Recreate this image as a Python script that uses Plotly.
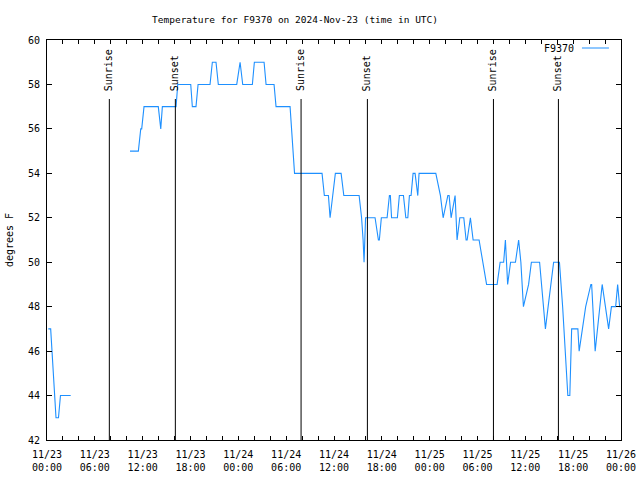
import pandas as pd
import plotly.graph_objects as go

start = pd.Timestamp("2024-11-23 00:00")
station = "F9370"
title_text = "Temperature for F9370 on 2024-Nov-23 (time in UTC)"

# hours after 2024-11-23 00:00 UTC
hours = [
    0.16, 0.46, 1.13, 1.44, 1.69, 2.97,
    6.0,
    10.41, 11.46, 11.76, 11.88, 12.17, 13.96, 14.27, 14.47, 16.19, 16.40,
    18.03, 18.23, 18.69, 18.95, 20.45, 20.74, 21.20, 21.49, 23.80, 24.22,
    24.55, 25.76, 26.01, 27.23, 27.48, 28.48, 28.73, 30.49, 31.05, 34.50,
    34.79, 35.30, 35.51, 35.85, 36.17, 36.89, 37.23, 39.15, 39.46, 39.65,
    39.77, 39.96, 41.15, 41.57, 41.69, 41.94, 42.66, 42.95, 43.07, 43.22,
    43.95, 44.20, 44.71, 45.01, 45.26, 45.46, 45.67, 45.92, 46.17, 46.51,
    46.67, 48.77, 49.35, 49.69, 50.28, 50.44, 50.69, 51.19, 51.44, 51.78,
    52.28, 52.57, 52.70, 53.11, 53.45, 54.20, 54.70, 55.14, 56.46, 56.84,
    57.28, 57.50, 57.78, 58.15, 58.76, 59.16, 59.44, 59.76, 60.41, 60.76,
    61.79, 62.27, 62.52, 62.86, 63.20, 63.55, 64.28, 64.68, 65.33, 65.58,
    65.81, 66.59, 66.75, 67.57, 68.22, 68.32, 68.76, 69.32, 69.64, 70.45,
    70.80, 71.33, 71.58, 71.83, 71.95,
]
temps = [
    47, 47, 43, 43, 44, 44,
    None,
    55, 55, 56, 56, 57, 57, 56, 57, 57, 58,
    58, 57, 57, 58, 58, 59, 59, 58, 58, 59,
    58, 58, 59, 59, 58, 58, 57, 57, 54, 54,
    53, 53, 52, 53, 54, 54, 53, 53, 52, 51,
    50, 52, 52, 51, 51, 52, 52, 53, 53, 52,
    52, 53, 53, 52, 52, 53, 53, 54, 54, 53,
    54, 54, 53, 52, 53, 53, 52, 53, 51, 52,
    52, 51, 51, 52, 51, 51, 50, 49, 49, 50,
    50, 51, 49, 50, 50, 51, 50, 48, 49, 50,
    50, 48, 47, 48, 49, 50, 50, 48, 44, 44,
    47, 47, 46, 48, 49, 49, 46, 48, 49, 47,
    48, 48, 49, 48, 48,
]

sun_labels = ["Sunrise", "Sunset", "Sunrise", "Sunset", "Sunrise", "Sunset"]
sun_hours = [7.82, 16.10, 31.87, 40.19, 56.00, 64.15]

tick_hours = [0, 6, 12, 18, 24, 30, 36, 42, 48, 54, 60, 66, 72]
tick_labels = ["11/23<br>00:00", "11/23<br>06:00", "11/23<br>12:00", "11/23<br>18:00",
               "11/24<br>00:00", "11/24<br>06:00", "11/24<br>12:00", "11/24<br>18:00",
               "11/25<br>00:00", "11/25<br>06:00", "11/25<br>12:00", "11/25<br>18:00",
               "11/26<br>00:00"]

line_color = "#1e90ff"
to_time = lambda h: start + pd.Timedelta(hours=h)

times = [to_time(h) for h in hours]

fig = go.Figure()
fig.add_trace(go.Scatter(x=times, y=temps, mode="lines", name=station,
                         line=dict(color=line_color, width=1.1), connectgaps=False))

shapes = []
annotations = []
for lab, h in zip(sun_labels, sun_hours):
    t = to_time(h)
    shapes.append(dict(type="line", xref="x", yref="paper", x0=t, x1=t, y0=0, y1=0.8525,
                       line=dict(color="black", width=1)))
    annotations.append(dict(text=lab, x=t, y=0.8675, xref="x", yref="paper",
                            textangle=-90, xanchor="center", yanchor="bottom",
                            showarrow=False, font=dict(size=10)))

# gnuplot-style key: text then sample line
annotations.append(dict(text=station, x=0.921, y=0.98, xref="paper", yref="paper",
                        xanchor="right", yanchor="middle", showarrow=False,
                        font=dict(size=10)))
shapes.append(dict(type="line", xref="paper", yref="paper", x0=0.932, x1=0.979,
                   y0=0.98, y1=0.98, line=dict(color=line_color, width=1)))

fig.update_layout(
    width=640, height=480,
    margin=dict(l=47, r=19, t=40, b=40, autoexpand=False),
    plot_bgcolor="white", paper_bgcolor="white",
    font=dict(family="DejaVu Sans Mono", size=10, color="black"),
    showlegend=False,
    title=dict(text=title_text, x=0.461, xanchor="center", y=0.958, yanchor="middle",
               font=dict(size=9.5)),
    shapes=shapes, annotations=annotations,
)
fig.update_xaxes(
    type="date", range=[to_time(0), to_time(72)], automargin=False,
    tickvals=[to_time(h) for h in tick_hours], ticktext=tick_labels,
    ticks="inside", ticklen=4, tickcolor="black",
    minor=dict(dtick=2 * 3600000, ticks="inside", ticklen=4, tickcolor="black"),
    showline=True, linecolor="black", linewidth=1, mirror="allticks",
    showgrid=False, zeroline=False, ticklabelstandoff=5,
)
fig.update_yaxes(
    range=[42, 60], dtick=2, tick0=42, automargin=False,
    ticks="inside", ticklen=5, tickcolor="black",
    showline=True, linecolor="black", linewidth=1, mirror="allticks",
    showgrid=False, zeroline=False, ticklabelstandoff=4,
    title=dict(text="degrees F", standoff=12, font=dict(size=10)),
)

fig.write_html("out.html", config={"displayModeBar": False},
               post_script="document.body.style.margin='0';")
